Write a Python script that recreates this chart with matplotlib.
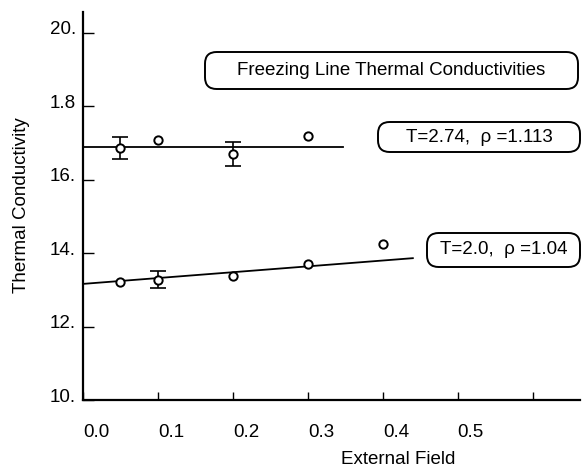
import matplotlib
matplotlib.use("Agg")
import matplotlib.pyplot as plt
import matplotlib.transforms as mtransforms
from matplotlib.patches import FancyBboxPatch

plt.rcParams['font.family'] = ['Liberation Sans', 'DejaVu Sans']

# freezing line data, T=2.74 rho=1.113
x_hi = [0.05, 0.1, 0.2, 0.3]
k_hi = [16.86, 17.07, 16.69, 17.18]
x_hi_err = [0.05, 0.2]
k_hi_err = [16.86, 16.69]
e_hi = [0.31, 0.32]
fit_hi_x = [0.0, 0.347]
fit_hi_y = [16.88, 16.88]

# T=2.0 rho=1.04
x_lo = [0.05, 0.1, 0.2, 0.3, 0.4]
k_lo = [13.21, 13.27, 13.37, 13.70, 14.24]
x_lo_err = [0.1]
k_lo_err = [13.27]
e_lo = [0.23]
fit_lo_x = [0.0, 0.44]
fit_lo_y = [13.16, 13.86]

xticks = [0.0, 0.1, 0.2, 0.3, 0.4, 0.5, 0.6]
xticklabels = ['0.0', '0.1', '0.2', '0.3', '0.4', '0.5', '']
yticks = [10, 12, 14, 16, 18, 20]
yticklabels = ['10.', '12.', '14.', '16.', '1.8', '20.']

W, H = 584, 474
fig = plt.figure(figsize=(W / 100, H / 100), dpi=100)
ax = fig.add_axes([83 / W, 1 - 400 / H, (580 - 83) / W, (400 - 12) / H])
ax.set_xlim(0, 0.663)
ax.set_ylim(10, 20.56)

for s in ['top', 'right']:
    ax.spines[s].set_visible(False)
for s in ['left', 'bottom']:
    ax.spines[s].set_linewidth(1.6)

ax.plot(fit_hi_x, fit_hi_y, color='black', lw=1.3)
ax.plot(fit_lo_x, fit_lo_y, color='black', lw=1.3)
ax.errorbar(x_hi_err, k_hi_err, yerr=e_hi, fmt='none', ecolor='black', elinewidth=1.2, capsize=6, capthick=1.2)
ax.errorbar(x_lo_err, k_lo_err, yerr=e_lo, fmt='none', ecolor='black', elinewidth=1.2, capsize=6, capthick=1.2)
ax.plot(x_hi, k_hi, 'o', ms=6, mfc='white', mec='black', mew=1.4, zorder=5)
ax.plot(x_lo, k_lo, 'o', ms=6, mfc='white', mec='black', mew=1.4, zorder=5)

ax.set_xticks(xticks)
ax.set_xticklabels(xticklabels, fontsize=13.5)
ax.set_yticks(yticks)
ax.set_yticklabels(yticklabels, fontsize=13.5)
ax.tick_params(axis='x', direction='in', length=6, width=1, pad=17)
ax.tick_params(axis='y', direction='in', length=8, width=1, pad=5)

# tick labels sit off their ticks in the original
dx = mtransforms.ScaledTranslation(0.13, 0, fig.dpi_scale_trans)
for lab in ax.get_xticklabels():
    lab.set_transform(lab.get_transform() + dx)
dy = mtransforms.ScaledTranslation(0, 0.05, fig.dpi_scale_trans)
for lab in ax.get_yticklabels():
    lab.set_transform(lab.get_transform() + dy)

fig.text(398 / W, 1 - 459 / H, 'External Field', fontsize=13.5, ha='center', va='center')
fig.text(22 / W, 1 - 205 / H, 'Thermal Conductivity', fontsize=13.5, ha='center', va='center', rotation=90)

# rounded label boxes (pixel coords)
boxes = [
    (205, 52, 578, 89, 'Freezing Line Thermal Conductivities'),
    (378, 122, 580, 152, 'T=2.74,  \u03c1 =1.113'),
    (427, 233, 580, 267, 'T=2.0,  \u03c1 =1.04'),
]
for x0, y0, x1, y1, txt in boxes:
    p = FancyBboxPatch((x0 / W, 1 - y1 / H), (x1 - x0) / W, (y1 - y0) / H,
                       boxstyle='round,pad=0,rounding_size=0.02',
                       transform=fig.transFigure, fc='white', ec='black', lw=1.4,
                       mutation_aspect=W / H)
    fig.patches.append(p)
    fig.text((x0 + x1) / 2 / W, 1 - (y0 + y1) / 2 / H, txt, fontsize=13.5, ha='center', va='center')

fig.savefig('out.png', dpi=100)
plt.close(fig)
